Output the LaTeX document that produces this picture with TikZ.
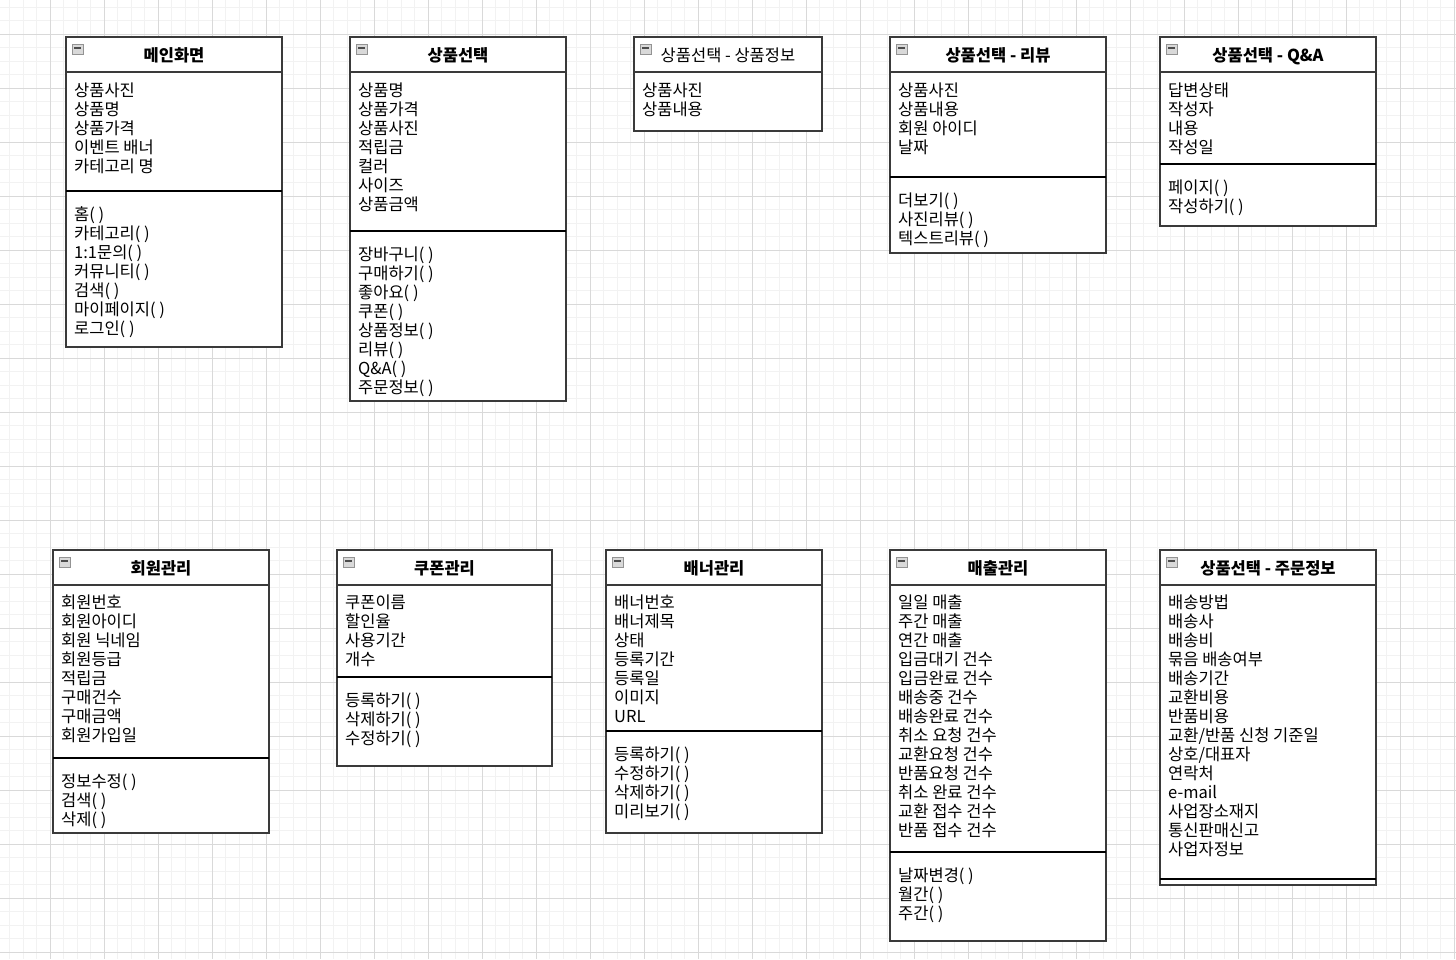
\documentclass[tikz,border=0pt]{standalone}
\usepackage{fontspec}
\setmainfont{Noto Sans CJK KR}
\definecolor{gridminor}{HTML}{F2F2F2}
\definecolor{gridmajor}{HTML}{D9D9D9}
\definecolor{boxline}{HTML}{3A3A3A}
\tikzset{
  classbox/.style={draw=boxline, line width=2pt, fill=white},
  headline/.style={draw=boxline, line width=2pt},
  sepline/.style={draw=black, line width=1.2pt},
  classtitle/.style={anchor=base, inner sep=0pt, font=\fontsize{16.5}{19}\selectfont\bfseries},
  member/.style={anchor=base west, inner sep=0pt, font=\fontsize{16.5}{19}\selectfont},
  collapse/.pic={
    \draw[draw=gray!85, fill=gray!30, line width=0.8pt] (0,0) rectangle (11,10);
    \draw[line width=1.6pt, draw=black!70] (2,4) -- (9,4);
  }
}
\begin{document}
\begin{tikzpicture}[x=1pt, y=-1pt]
  \useasboundingbox[fill=white] (0,0) rectangle (1456,959);

  % grid
  \foreach \gx in {9.8,23.3,...,1456} \draw[gridminor, line width=1pt] (\gx,0) -- (\gx,959);
  \foreach \gy in {7.3,20.8,...,959} \draw[gridminor, line width=1pt] (0,\gy) -- (1456,\gy);
  \foreach \gx in {50.3,104.3,...,1456} \draw[gridmajor, line width=1pt] (\gx,0) -- (\gx,959);
  \foreach \gy in {34.3,88.3,...,959} \draw[gridmajor, line width=1pt] (0,\gy) -- (1456,\gy);

  % 메인화면
  \draw[classbox] (66,37) rectangle (282,347);
  \draw[headline] (66,72) -- (282,72);
  \draw[sepline] (66,191) -- (282,191);
  \pic at (72,44) {collapse};
  \node[classtitle] (main) at (174,61) {메인화면};
  \foreach \t [count=\i from 0] in {상품사진,상품명,상품가격,이벤트 배너,카테고리 명}
    \node[member] (main-a\i) at (74,{96+19*\i}) {\t};
  \foreach \t [count=\i from 0] in {홈( ),카테고리( ),1:1문의( ),커뮤니티( ),검색( ),마이페이지( ),로그인( )}
    \node[member] (main-m\i) at (74,{220+19*\i}) {\t};

  % 상품선택
  \draw[classbox] (350,37) rectangle (566,401);
  \draw[headline] (350,72) -- (566,72);
  \draw[sepline] (350,231) -- (566,231);
  \pic at (356,44) {collapse};
  \node[classtitle] (sel) at (458,61) {상품선택};
  \foreach \t [count=\i from 0] in {상품명,상품가격,상품사진,적립금,컬러,사이즈,상품금액}
    \node[member] (sel-a\i) at (358,{96+19*\i}) {\t};
  \foreach \t [count=\i from 0] in {장바구니( ),구매하기( ),좋아요( ),쿠폰( ),상품정보( ),리뷰( ),Q\&A( ),주문정보( )}
    \node[member] (sel-m\i) at (358,{260+19*\i}) {\t};

  % 상품선택 - 상품정보
  \draw[classbox] (634,37) rectangle (822,131);
  \draw[headline] (634,72) -- (822,72);
  \pic at (640,44) {collapse};
  \node[classtitle, font=\fontsize{16.5}{19}\selectfont] (info) at (728,61) {상품선택 - 상품정보};
  \foreach \t [count=\i from 0] in {상품사진,상품내용}
    \node[member] (info-a\i) at (642,{96+19*\i}) {\t};

  % 상품선택 - 리뷰
  \draw[classbox] (890,37) rectangle (1106,253);
  \draw[headline] (890,72) -- (1106,72);
  \draw[sepline] (890,177) -- (1106,177);
  \pic at (896,44) {collapse};
  \node[classtitle] (review) at (998,61) {상품선택 - 리뷰};
  \foreach \t [count=\i from 0] in {상품사진,상품내용,회원 아이디,날짜}
    \node[member] (review-a\i) at (898,{96+19*\i}) {\t};
  \foreach \t [count=\i from 0] in {더보기( ),사진리뷰( ),텍스트리뷰( )}
    \node[member] (review-m\i) at (898,{206+19*\i}) {\t};

  % 상품선택 - Q&A
  \draw[classbox] (1160,37) rectangle (1376,226);
  \draw[headline] (1160,72) -- (1376,72);
  \draw[sepline] (1160,164) -- (1376,164);
  \pic at (1166,44) {collapse};
  \node[classtitle] (qna) at (1268,61) {상품선택 - Q\&A};
  \foreach \t [count=\i from 0] in {답변상태,작성자,내용,작성일}
    \node[member] (qna-a\i) at (1168,{96+19*\i}) {\t};
  \foreach \t [count=\i from 0] in {페이지( ),작성하기( )}
    \node[member] (qna-m\i) at (1168,{193+19*\i}) {\t};

  % 회원관리
  \draw[classbox] (53,550) rectangle (269,833);
  \draw[headline] (53,585) -- (269,585);
  \draw[sepline] (53,758) -- (269,758);
  \pic at (59,557) {collapse};
  \node[classtitle] (member) at (161,574) {회원관리};
  \foreach \t [count=\i from 0] in {회원번호,회원아이디,회원 닉네임,회원등급,적립금,구매건수,구매금액,회원가입일}
    \node[member] (member-a\i) at (61,{608+19*\i}) {\t};
  \foreach \t [count=\i from 0] in {정보수정( ),검색( ),삭제( )}
    \node[member] (member-m\i) at (61,{787+19*\i}) {\t};

  % 쿠폰관리
  \draw[classbox] (337,550) rectangle (552,766);
  \draw[headline] (337,585) -- (552,585);
  \draw[sepline] (337,677) -- (552,677);
  \pic at (343,557) {collapse};
  \node[classtitle] (coupon) at (444.5,574) {쿠폰관리};
  \foreach \t [count=\i from 0] in {쿠폰이름,할인율,사용기간,개수}
    \node[member] (coupon-a\i) at (345,{608+19*\i}) {\t};
  \foreach \t [count=\i from 0] in {등록하기( ),삭제하기( ),수정하기( )}
    \node[member] (coupon-m\i) at (345,{706+19*\i}) {\t};

  % 배너관리
  \draw[classbox] (606,550) rectangle (822,833);
  \draw[headline] (606,585) -- (822,585);
  \draw[sepline] (606,731) -- (822,731);
  \pic at (612,557) {collapse};
  \node[classtitle] (banner) at (714,574) {배너관리};
  \foreach \t [count=\i from 0] in {배너번호,배너제목,상태,등록기간,등록일,이미지,URL}
    \node[member] (banner-a\i) at (614,{608+19*\i}) {\t};
  \foreach \t [count=\i from 0] in {등록하기( ),수정하기( ),삭제하기( ),미리보기( )}
    \node[member] (banner-m\i) at (614,{760+19*\i}) {\t};

  % 매출관리
  \draw[classbox] (890,550) rectangle (1106,941);
  \draw[headline] (890,585) -- (1106,585);
  \draw[sepline] (890,852) -- (1106,852);
  \pic at (896,557) {collapse};
  \node[classtitle] (sales) at (998,574) {매출관리};
  \foreach \t [count=\i from 0] in {일일 매출,주간 매출,연간 매출,입금대기 건수,입금완료 건수,배송중 건수,배송완료 건수,취소 요청 건수,교환요청 건수,반품요청 건수,취소 완료 건수,교환 접수 건수,반품 접수 건수}
    \node[member] (sales-a\i) at (898,{608+19*\i}) {\t};
  \foreach \t [count=\i from 0] in {날짜변경( ),월간( ),주간( )}
    \node[member] (sales-m\i) at (898,{881+19*\i}) {\t};

  % 상품선택 - 주문정보
  \draw[classbox] (1160,550) rectangle (1376,885);
  \draw[headline] (1160,585) -- (1376,585);
  \draw[sepline] (1160,879) -- (1376,879);
  \pic at (1166,557) {collapse};
  \node[classtitle] (order) at (1268,574) {상품선택 - 주문정보};
  \foreach \t [count=\i from 0] in {배송방법,배송사,배송비,묶음 배송여부,배송기간,교환비용,반품비용,교환/반품 신청 기준일,상호/대표자,연락처,e-mail,사업장소재지,통신판매신고,사업자정보}
    \node[member] (order-a\i) at (1168,{608+19*\i}) {\t};
\end{tikzpicture}
\end{document}
